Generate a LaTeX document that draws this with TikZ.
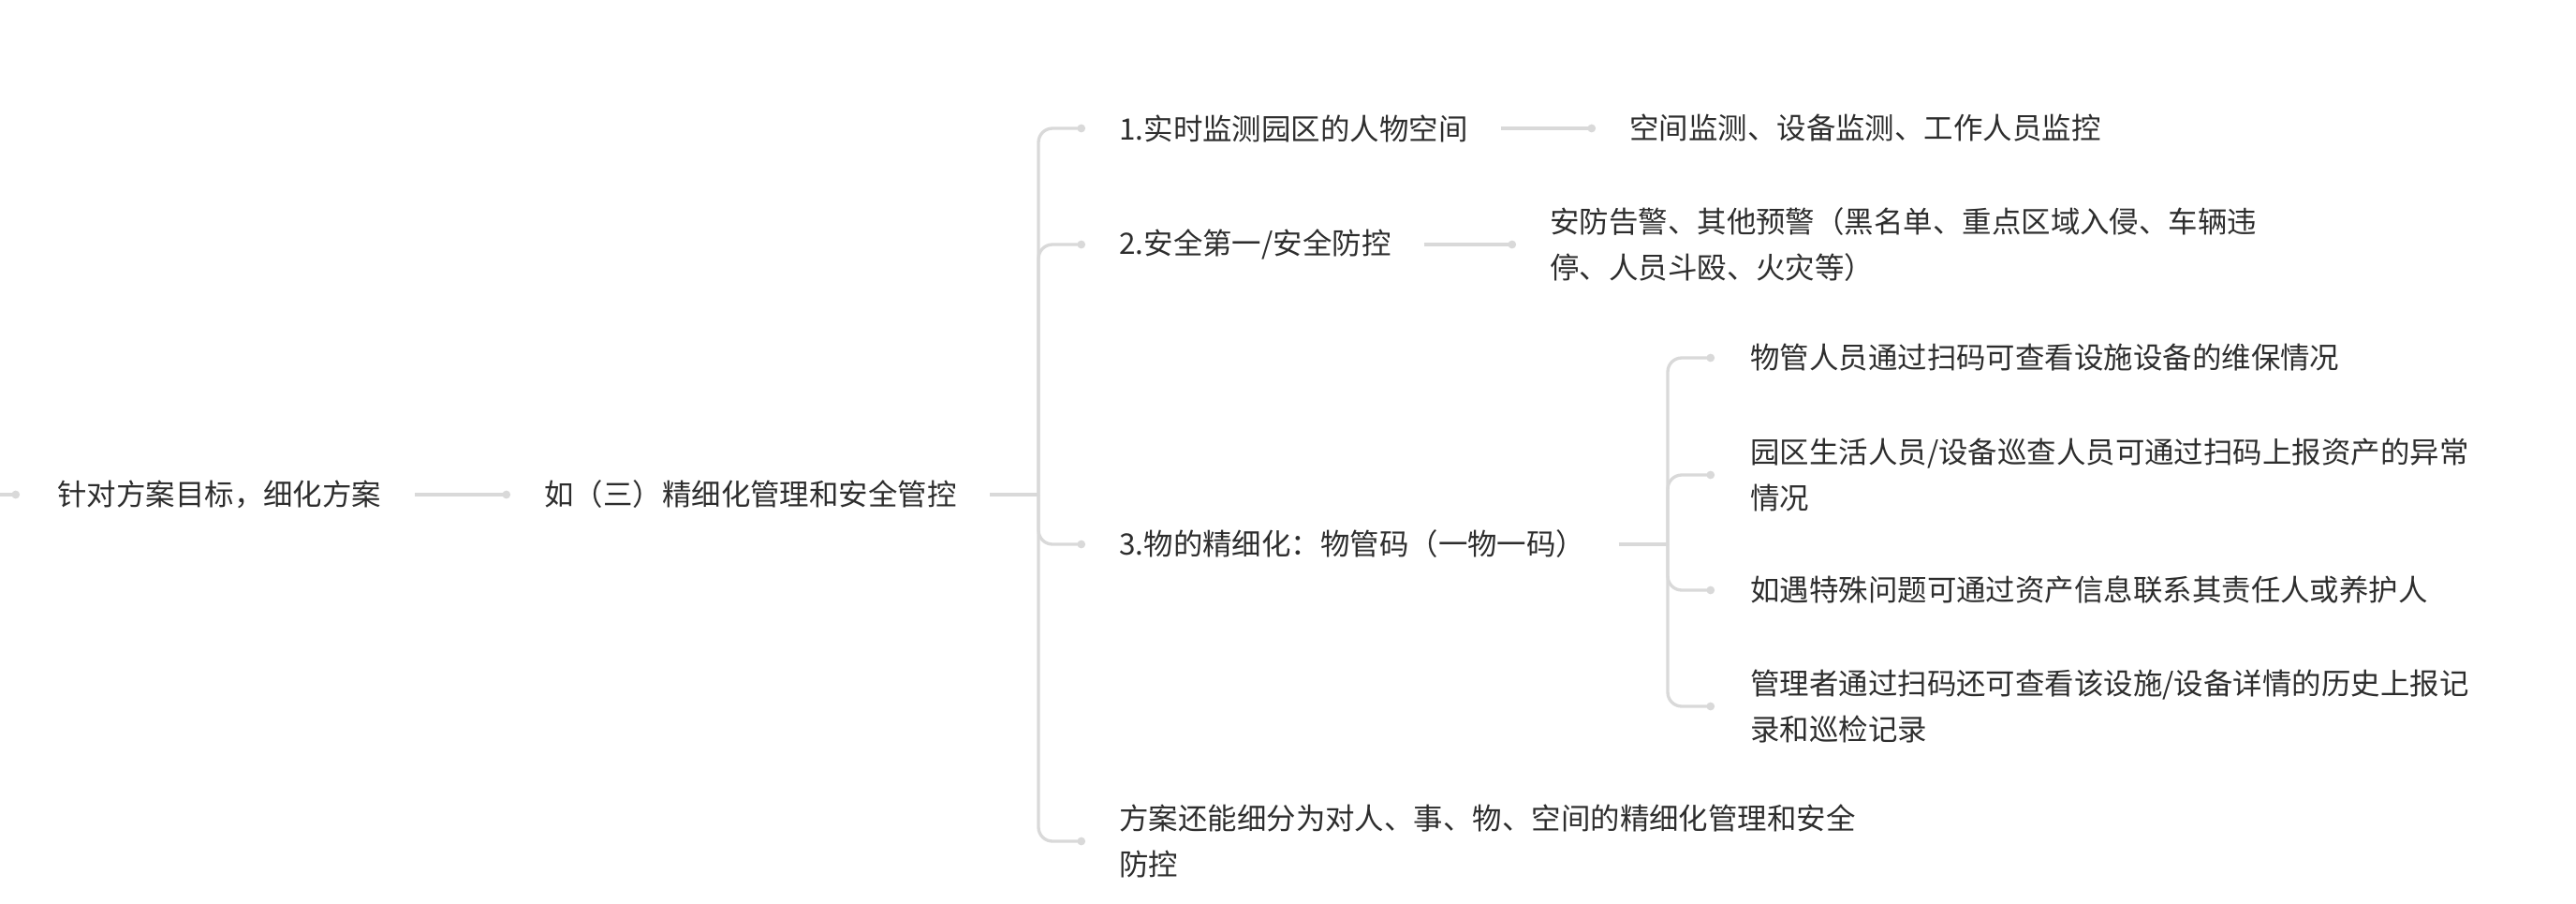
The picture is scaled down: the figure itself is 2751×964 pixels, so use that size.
\documentclass[tikz,border=0pt]{standalone}
\usepackage{fontspec}
\newfontfamily\cjk{Noto Sans CJK SC}
\usetikzlibrary{arrows.meta}
\definecolor{linkgray}{RGB}{217,217,217}
\definecolor{textgray}{RGB}{45,45,45}
\tikzset{
	topic/.style={anchor=west, inner sep=0pt, align=left, text=textgray,
		font=\cjk\fontsize{17.9pt}{27.8pt}\selectfont},
	link/.style={draw=linkgray, line width=1.9pt, rounded corners=0.3cm,
		-{Circle[length=0.17cm]}, shorten <=0.7cm, shorten >=0.72cm},
	joint/.style={draw=linkgray, line width=1.9pt, shorten <=0.7cm},
}

\begin{document}
\begin{tikzpicture}[x=0.02cm, y=-0.02cm]
		\useasboundingbox (0,0) rectangle (2751,964);
		\coordinate (root) at (0,528);
		\node[topic] (goal) at (61,528) {针对方案目标，细化方案};
		\node[topic] (plan) at (581,528) {如（三）精细化管理和安全管控};
		\coordinate (fork) at (1109,528);
		\node[topic] (watch) at (1195,137) {1.实时监测园区的人物空间};
		\node[topic] (watchx) at (1740,137) {空间监测、设备监测、工作人员监控};
		\node[topic] (safe) at (1195,261) {2.安全第一/安全防控};
		\node[topic] (safex) at (1655,261) {安防告警、其他预警（黑名单、重点区域入侵、车辆违\\停、人员斗殴、火灾等）};
		\node[topic] (code) at (1195,581) {3.物的精细化：物管码（一物一码）};
		\coordinate (subfork) at (1781,581);
		\node[topic] (codea) at (1869,382) {物管人员通过扫码可查看设施设备的维保情况};
		\node[topic] (codeb) at (1869,507) {园区生活人员/设备巡查人员可通过扫码上报资产的异常\\情况};
		\node[topic] (codec) at (1869,630) {如遇特殊问题可通过资产信息联系其责任人或养护人};
		\node[topic] (coded) at (1869,754) {管理者通过扫码还可查看该设施/设备详情的历史上报记\\录和巡检记录};
		\node[topic] (split) at (1195,898) {方案还能细分为对人、事、物、空间的精细化管理和安全\\防控};
		% trunk
		\draw[link, shorten <=0pt, shorten >=0.8cm] (root) -- (goal.west);
		\draw[link] (goal) -- (plan.west);
		\draw[joint] (plan) -- (fork);
		% first level
		\foreach \n in {watch,safe,code,split}
			\draw[link, shorten <=0pt] (fork) |- (\n.west);
		\draw[link] (watch) -- (watchx.west);
		\draw[link] (safe) -- (safex.west);
		% things code
		\draw[joint] (code) -- (subfork);
		\foreach \n in {codea,codeb,codec,coded}
			\draw[link, shorten <=0pt, shorten >=0.76cm] (subfork) |- (\n.west);
\end{tikzpicture}
\end{document}
